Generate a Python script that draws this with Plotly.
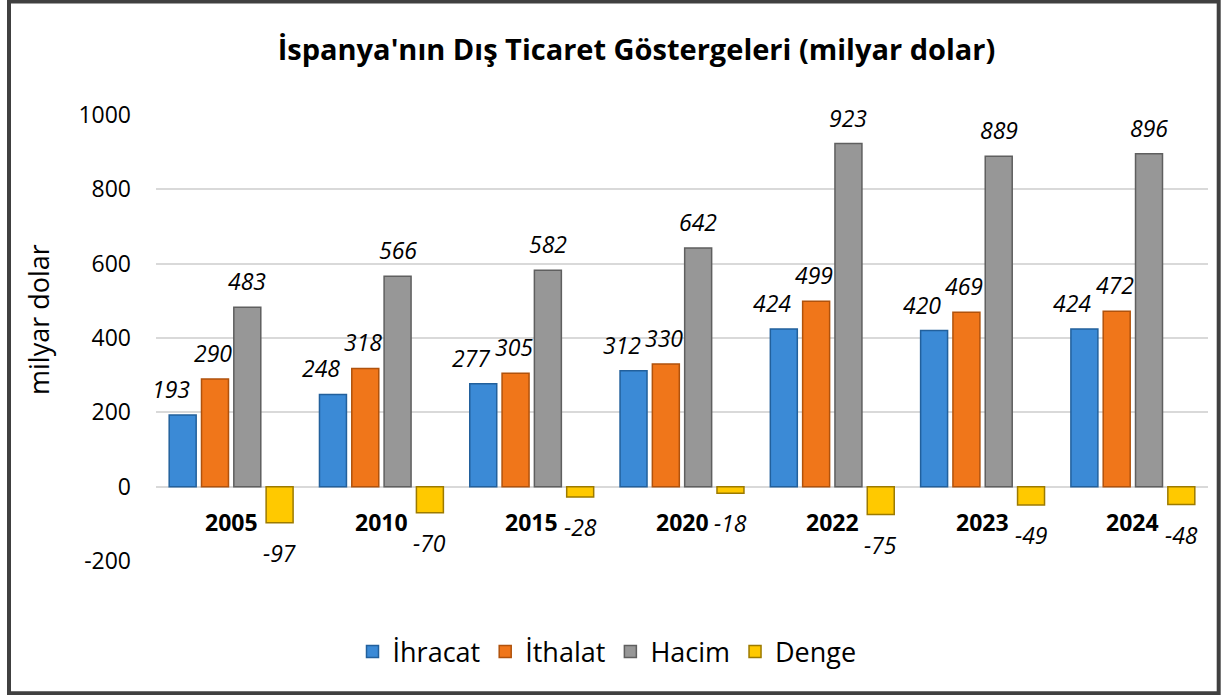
import plotly.graph_objects as go

years = ["2005", "2010", "2015", "2020", "2022", "2023", "2024"]
ihracat = [193, 248, 277, 312, 424, 420, 424]
ithalat = [290, 318, 305, 330, 499, 469, 472]
hacim = [483, 566, 582, 642, 923, 889, 896]
denge = [-97, -70, -28, -18, -75, -49, -48]
ytick_vals = [-200, 0, 200, 400, 600, 800, 1000]
ytick_text = ["-200", "0", "200", "400", "600", "800", "1000"]

# name, values, fill, edge, label x-nudge (px)
series = [
    ("İhracat", ihracat, "#3B8AD6", "#22609C", -12),
    ("İthalat", ithalat, "#F0761A", "#B0520C", -2),
    ("Hacim", hacim, "#979797", "#5F5F5F", 0),
    ("Denge", denge, "#FFC900", "#9C7A00", 0),
]

W, H = 1223, 695
ML, MR, MT, MB = 156, 15, 115, 134
FONT = "Open Sans"
BARGAP = 0.14
GROUPGAP = 0.165

fig = go.Figure()
for name, vals, col, edge, _ in series:
    fig.add_trace(go.Bar(
        name=name, x=years, y=vals,
        marker=dict(color=col, line=dict(color=edge, width=1.5)),
    ))

# data labels (category axis: annotation x uses category index)
plot_w = W - ML - MR
plot_h = H - MT - MB
cat_w = plot_w / len(years)
slot = cat_w * (1 - BARGAP) / len(series)
for i, (name, vals, col, edge, nudge) in enumerate(series):
    xs = (i - (len(series) - 1) / 2) * slot
    for ci, v in enumerate(vals):
        fig.add_annotation(
            x=ci, y=v, xref="x", yref="y", text=f"<i>{v}</i>", showarrow=False,
            xshift=xs + (nudge if v >= 0 else 0), yshift=8 if v >= 0 else -12,
            yanchor="bottom" if v >= 0 else "top",
            font=dict(family=FONT, size=23, color="#000000"),
        )

# category labels near zero line
for ci, yr in enumerate(years):
    fig.add_annotation(
        x=ci, y=0, xref="x", yref="y", text=f"<b>{yr}</b>", showarrow=False,
        yshift=-35, yanchor="middle",
        font=dict(family=FONT, size=23, color="#000000"),
    )

# y axis title
fig.add_annotation(
    x=(38 - ML) / plot_w, y=(H - MB - 320) / plot_h, xref="paper", yref="paper",
    text="milyar dolar", textangle=-90, showarrow=False,
    xanchor="center", yanchor="middle",
    font=dict(family=FONT, size=27, color="#000000"),
)

# outer border
fig.add_shape(
    type="rect", xref="paper", yref="paper",
    x0=(9 - ML) / plot_w, x1=(1218.7 - ML) / plot_w,
    y0=(H - MB - 693.3) / plot_h, y1=(H - MB - 1.5) / plot_h,
    line=dict(color="#404040", width=4), fillcolor="rgba(0,0,0,0)", layer="above",
)

fig.update_layout(
    width=W, height=H,
    margin=dict(l=ML, r=MR, t=MT, b=MB),
    paper_bgcolor="white", plot_bgcolor="white",
    barmode="group", bargap=BARGAP, bargroupgap=GROUPGAP,
    title=dict(
        text="<b>İspanya'nın Dış Ticaret Göstergeleri (milyar dolar)</b>",
        x=636.5 / W, xanchor="center", y=1 - 50 / H, yanchor="middle",
        xref="container", yref="container",
        font=dict(family=FONT, size=29, color="#000000"),
    ),
    font=dict(family=FONT, size=22, color="#000000"),
    showlegend=True,
    legend=dict(
        orientation="h", x=(607 - ML) / plot_w, xanchor="center",
        y=(H - MB - 652) / plot_h, yanchor="middle",
        font=dict(family=FONT, size=27, color="#000000"),
        traceorder="normal",
    ),
    xaxis=dict(type="category", range=[-0.5, len(years) - 0.5],
               showticklabels=False, showgrid=False,
               zeroline=False, showline=False, ticks=""),
    yaxis=dict(
        range=[-200, 1000], tickvals=ytick_vals, ticktext=ytick_text,
        showgrid=True, gridcolor="#D9D9D9", gridwidth=1.5,
        zeroline=True, zerolinecolor="#D9D9D9", zerolinewidth=1.5,
        showline=False, ticks="", ticklabelstandoff=24,
        tickfont=dict(family=FONT, size=23, color="#000000"),
    ),
)

fig.write_html("out.html", config={"displayModeBar": False},
               post_script="document.body.style.margin='0';")
